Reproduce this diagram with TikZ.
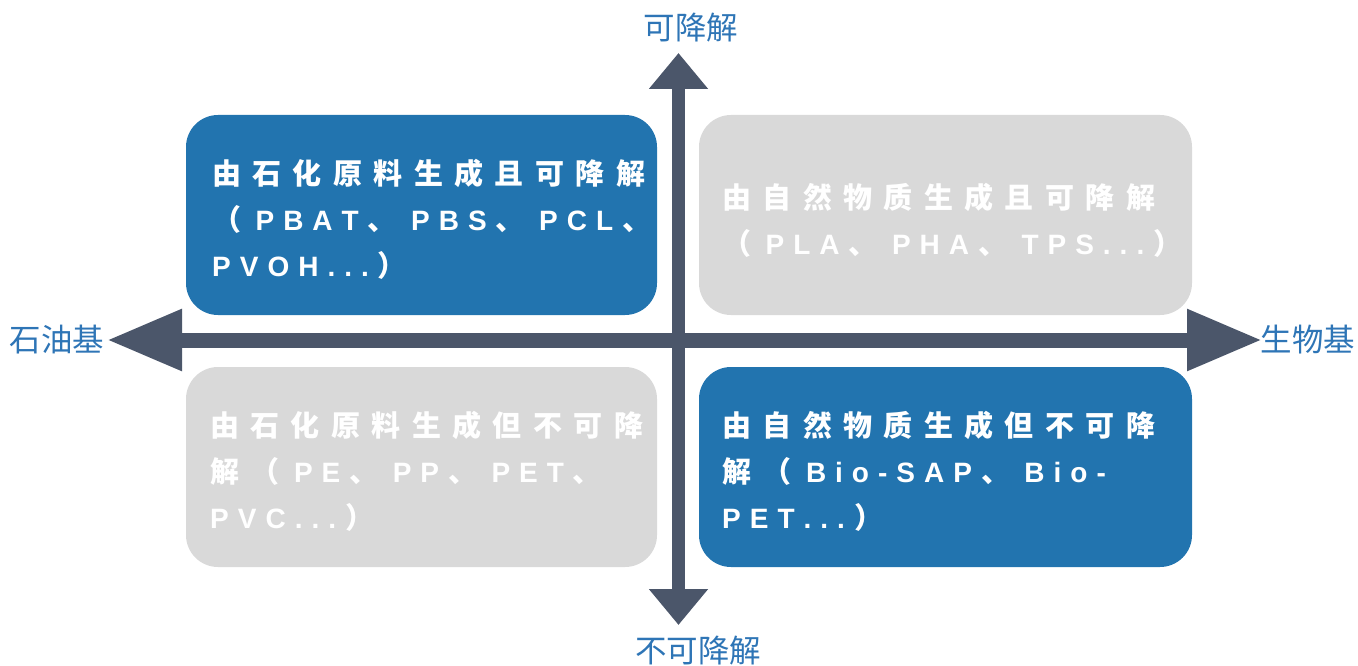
\documentclass[tikz,border=0pt]{standalone}
\usepackage{fontspec}
\usetikzlibrary{arrows.meta}
\setmainfont{Liberation Sans}
\newfontfamily\cjk{Noto Sans CJK SC}
\newlength\hanskip \setlength\hanskip{11.4pt}
\newlength\punskip \setlength\punskip{14.4pt}
\newlength\latskip \setlength\latskip{9pt}
\newcommand\Han[1]{{\cjk\bfseries\fontsize{29}{46}\selectfont\hanloop#1\relax}}
\def\hanloop#1{\ifx#1\relax\else#1\kern\hanskip\expandafter\hanloop\fi}
\newcommand\Pun[1]{{\cjk\bfseries\fontsize{29}{46}\selectfont#1\kern\punskip}}
\newcommand\Lat[1]{{\latloop#1\relax}}
\def\latloop#1{\ifx#1\relax\else#1\kern\latskip\expandafter\latloop\fi}
\definecolor{boxblue}{HTML}{2274AF}
\definecolor{boxgray}{HTML}{D9D9D9}
\definecolor{axisgray}{HTML}{4B566A}
\definecolor{lblblue}{HTML}{2E75B6}
\tikzset{
  quad/.style={fill=#1, draw=none, rounded corners=32pt},
  boxtext/.style={anchor=west, inner sep=0pt, align=left, text=white,
    font=\bfseries\fontsize{28}{46}\selectfont},
  axislabel/.style={text=lblblue, inner sep=0pt, font=\cjk\fontsize{31.5}{34}\selectfont},
  haxis/.style={axisgray, line width=15pt,
    {Triangle[length=75pt,width=58pt]}-{Triangle[length=75pt,width=58pt]}},
  vaxis/.style={axisgray, line width=13pt,
    {Triangle[length=36pt,width=57pt]}-{Triangle[length=36pt,width=57pt]}},
}
\begin{document}
\begin{tikzpicture}[x=1pt,y=-1pt]
\useasboundingbox (0,0) rectangle (1358,666);
% quadrant boxes
\fill[quad=boxblue] (186,115) rectangle (657,315);
\fill[quad=boxgray] (699,115) rectangle (1192,315);
\fill[quad=boxgray] (186,367) rectangle (657,567);
\fill[quad=boxblue] (699,367) rectangle (1192,567);
% axes
\coordinate (L) at (107,340);
\coordinate (R) at (1262,340);
\coordinate (T) at (678.5,53);
\coordinate (B) at (678.5,625);
\draw[haxis] (L) -- (R);
\draw[vaxis] (B) -- (T);
% axis labels
\node[axislabel] (lt) at (691,28) {可降解};
\node[axislabel] (lb) at (698,651) {不可降解};
\node[axislabel] (ll) at (57,340) {石油基};
\node[axislabel] (lr) at (1308,340) {生物基};
% box texts
\node[boxtext] (tq1) at (212,219) {\Han{由石化原料生成且可降解}\\\Pun{（}\Lat{PBAT}\Pun{、}\Lat{PBS}\Pun{、}\Lat{PCL}\Pun{、}\\\Lat{PVOH...}\Pun{）}};
\node[boxtext] (tq2) at (722,220) {\Han{由自然物质生成且可降解}\\\Pun{（}\Lat{PLA}\Pun{、}\Lat{PHA}\Pun{、}\Lat{TPS...}\Pun{）}};
\node[boxtext] (tq3) at (210,471) {\Han{由石化原料生成但不可降}\\\Han{解}\Pun{（}\Lat{PE}\Pun{、}\Lat{PP}\Pun{、}\Lat{PET}\Pun{、}\\\Lat{PVC...}\Pun{）}};
\node[boxtext] (tq4) at (722,471) {\Han{由自然物质生成但不可降}\\\Han{解}\Pun{（}\Lat{Bio-SAP}\Pun{、}\Lat{Bio-}\\\Lat{PET...}\Pun{）}};
\end{tikzpicture}
\end{document}
